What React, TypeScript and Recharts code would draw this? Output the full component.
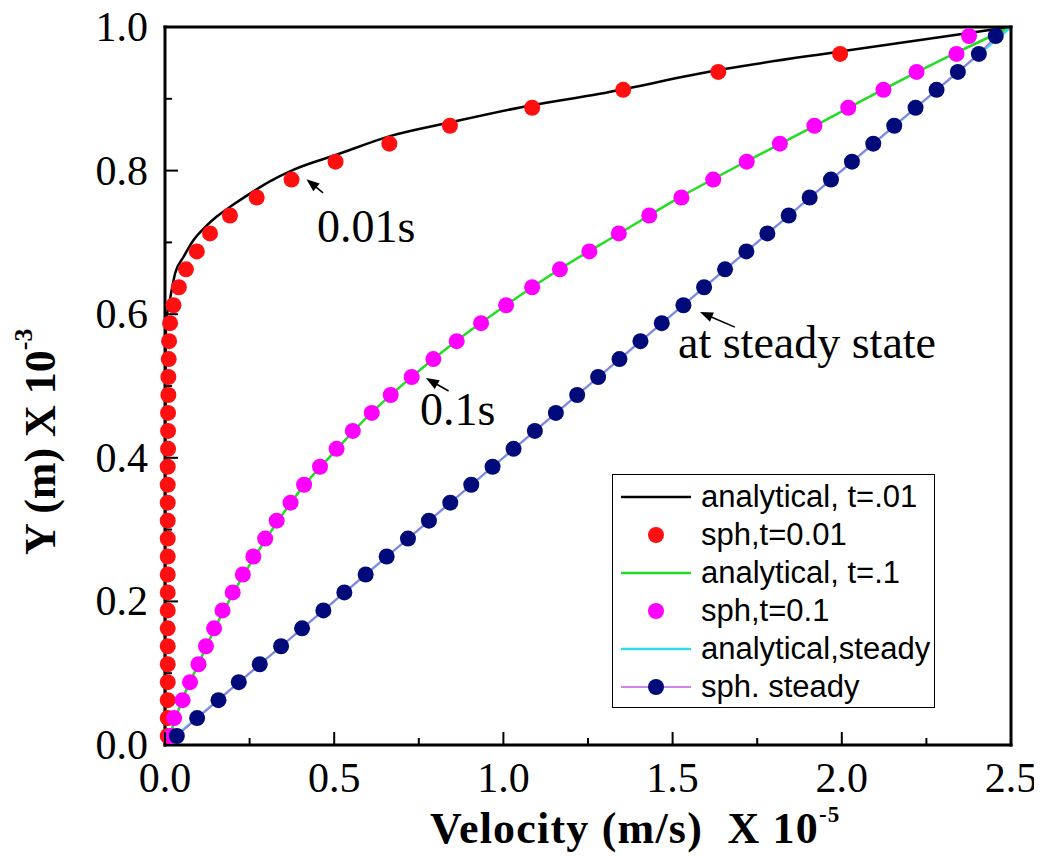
import { LineChart, Line, XAxis, YAxis, Legend, ReferenceLine, ReferenceDot } from "recharts";

// y positions of the sph particles (same for all three sph series)
const yLevels = [
  0.0125, 0.0375, 0.0625, 0.0875, 0.1125, 0.1375, 0.1625, 0.1875, 0.2125, 0.2375,
  0.2625, 0.2875, 0.3125, 0.3375, 0.3625, 0.3875, 0.4125, 0.4375, 0.4625, 0.4875,
  0.5125, 0.5375, 0.5625, 0.5875, 0.6125, 0.6375, 0.6625, 0.6875, 0.7125, 0.7375,
  0.7625, 0.7875, 0.8125, 0.8375, 0.8625, 0.8875, 0.9125, 0.9375, 0.9625, 0.9875,
];

// sph, t=0.01 (red dots)
const sphT001X = [
  0.008, 0.008, 0.008, 0.008, 0.008, 0.008, 0.008, 0.008, 0.008, 0.008,
  0.008, 0.008, 0.008, 0.008, 0.008, 0.008, 0.009, 0.009, 0.009, 0.01,
  0.01, 0.011, 0.012, 0.015, 0.025, 0.041, 0.062, 0.094, 0.133, 0.192,
  0.271, 0.374, 0.504, 0.663, 0.842, 1.085, 1.354, 1.635, 1.995,
];

// sph, t=0.1 (magenta dots)
const sphT01X = [
  0.018, 0.027, 0.052, 0.074, 0.099, 0.121, 0.145, 0.17, 0.2, 0.23,
  0.261, 0.296, 0.33, 0.371, 0.411, 0.458, 0.507, 0.555, 0.611, 0.667,
  0.729, 0.793, 0.862, 0.934, 1.008, 1.085, 1.167, 1.254, 1.341, 1.431,
  1.526, 1.62, 1.719, 1.817, 1.919, 2.019, 2.123, 2.221, 2.339, 2.376,
];

// sph steady (navy dots)
const sphSteadyX = [
  0.035, 0.095, 0.158, 0.218, 0.28, 0.343, 0.405, 0.468, 0.53, 0.593,
  0.655, 0.718, 0.78, 0.843, 0.905, 0.968, 1.03, 1.093, 1.155, 1.218,
  1.28, 1.343, 1.405, 1.468, 1.532, 1.593, 1.655, 1.718, 1.78, 1.843,
  1.905, 1.968, 2.03, 2.093, 2.155, 2.218, 2.28, 2.343, 2.405, 2.455,
];

// analytical, t=.01 (black)
const anaT001X = [0, 0.001, 0.003, 0.008, 0.015, 0.03, 0.055, 0.084, 0.12, 0.153, 0.2, 0.251, 0.31, 0.379, 0.507, 0.665, 0.842, 1.05, 1.285, 1.635, 1.995, 2.5];
const anaT001Y = [0, 0.45, 0.59, 0.605, 0.622, 0.657, 0.68, 0.703, 0.722, 0.736, 0.752, 0.768, 0.785, 0.801, 0.822, 0.848, 0.867, 0.888, 0.907, 0.94, 0.966, 1.0];

// analytical, t=.1 (green)
const anaT01X = [0, 0.02, 0.05, 0.1, 0.15, 0.2, 0.3, 0.4, 0.5, 0.6, 0.73, 0.862, 1.0, 1.167, 1.341, 1.526, 1.719, 1.919, 2.123, 2.32, 2.5];
const anaT01Y = [0, 0.022, 0.062, 0.114, 0.165, 0.21, 0.288, 0.355, 0.408, 0.458, 0.513, 0.563, 0.61, 0.663, 0.712, 0.764, 0.813, 0.862, 0.913, 0.96, 1.0];

// analytical, steady (cyan)
const anaSteadyX = [0, 2.5];
const anaSteadyY = [0, 1.0];

const xTickValues = [0, 0.25, 0.5, 0.75, 1.0, 1.25, 1.5, 1.75, 2.0, 2.25, 2.5];
const xTickLabels = ["0.0", "", "0.5", "", "1.0", "", "1.5", "", "2.0", "", "2.5"];
const yTickValues = [0, 0.1, 0.2, 0.3, 0.4, 0.5, 0.6, 0.7, 0.8, 0.9, 1.0];
const yTickLabels = ["0.0", "", "0.2", "", "0.4", "", "0.6", "", "0.8", "", "1.0"];

// annotations, in data units
const arrowTails = [[0.467, 0.769], [0.838, 0.493], [1.684, 0.582]];
const arrowHeads = [[0.418, 0.788], [0.771, 0.511], [1.581, 0.603]];
const noteTexts = ["0.01s", "0.1s", "at steady state"];
const notePos = [[0.449, 0.7006], [0.7535, 0.4457], [1.516, 0.539]];

const pts = (xs: number[], ys: number[]) => xs.map((x, i) => ({ x, y: ys[i] }));

const SERIF = "'Liberation Serif', 'Times New Roman', serif";
const SANS = "'Liberation Sans', Arial, sans-serif";

const series = [
  { name: "analytical, t=.01", data: pts(anaT001X, anaT001Y), line: "#000000", width: 2.5, dot: "", curve: "monotone" },
  { name: "sph,t=0.01", data: pts(sphT001X, yLevels), line: "none", width: 0, dot: "#ff1010", curve: "linear" },
  { name: "analytical, t=.1", data: pts(anaT01X, anaT01Y), line: "#22dd22", width: 2.5, dot: "", curve: "monotone" },
  { name: "sph,t=0.1", data: pts(sphT01X, yLevels), line: "none", width: 0, dot: "#ff00ff", curve: "linear" },
  { name: "analytical,steady", data: pts(anaSteadyX, anaSteadyY), line: "#33ddee", width: 2.5, dot: "", curve: "linear" },
  { name: "sph. steady", data: pts(sphSteadyX, yLevels), line: "#c060e0", width: 1.5, dot: "#000a78", curve: "linear" },
];

const labelAt = (labels: string[], values: number[], v: number) => {
  const i = values.findIndex((t) => Math.abs(t - v) < 1e-6);
  return i >= 0 ? labels[i] : "";
};

const BottomTick = (p: any) => {
  const label = labelAt(xTickLabels, xTickValues, p.payload.value);
  const len = label ? 13 : 7;
  return (
    <g>
      <line x1={p.x} y1={p.y} x2={p.x} y2={p.y - len} stroke="#000" strokeWidth={2} />
      {label && (
        <text x={p.x} y={p.y + 47} textAnchor="middle" fontFamily={SERIF} fontSize={42} fill="#000">
          {label}
        </text>
      )}
    </g>
  );
};

const TopTick = (p: any) => {
  const label = labelAt(xTickLabels, xTickValues, p.payload.value);
  const len = label ? 13 : 7;
  return <line x1={p.x} y1={p.y} x2={p.x} y2={p.y + len} stroke="#000" strokeWidth={2} />;
};

const LeftTick = (p: any) => {
  const label = labelAt(yTickLabels, yTickValues, p.payload.value);
  const len = label ? 13 : 7;
  return (
    <g>
      <line x1={p.x} y1={p.y} x2={p.x + len} y2={p.y} stroke="#000" strokeWidth={2} />
      {label && (
        <text x={p.x - 17} y={p.y + 14} textAnchor="end" fontFamily={SERIF} fontSize={42} fill="#000">
          {label}
        </text>
      )}
    </g>
  );
};

const RightTick = (p: any) => {
  const label = labelAt(yTickLabels, yTickValues, p.payload.value);
  const len = label ? 13 : 7;
  return <line x1={p.x} y1={p.y} x2={p.x - len} y2={p.y} stroke="#000" strokeWidth={2} />;
};

const XTitle = (p: any) => {
  const vb = p.viewBox;
  return (
    <text x={vb.x + 265} y={vb.y + 98} fontFamily={SERIF} fontWeight="bold" fontSize={44} letterSpacing={1.2} fill="#000">
      {"Velocity (m/s)\u00a0\u00a0X 10"}
      <tspan dy={-21} fontSize={23}>-5</tspan>
    </text>
  );
};

const YTitle = (p: any) => {
  const vb = p.viewBox;
  const x = vb.x + 47;
  const y = vb.y + 528;
  return (
    <text x={x} y={y} transform={`rotate(-90 ${x} ${y})`} fontFamily={SERIF} fontWeight="bold" fontSize={44} fill="#000">
      {"Y (m) X 10"}
      <tspan dy={-23} fontSize={26}>-3</tspan>
    </text>
  );
};

const Arrow = (p: any) => {
  const { x1, y1, x2, y2 } = p;
  const dx = x2 - x1;
  const dy = y2 - y1;
  const len = Math.hypot(dx, dy) || 1;
  const ux = dx / len;
  const uy = dy / len;
  const hl = 13;
  const hw = 5;
  const bx = x2 - ux * hl;
  const by = y2 - uy * hl;
  return (
    <g>
      <line x1={x1} y1={y1} x2={bx + ux * 2} y2={by + uy * 2} stroke="#000" strokeWidth={1.6} />
      <polygon points={`${x2},${y2} ${bx - uy * hw},${by + ux * hw} ${bx + uy * hw},${by - ux * hw}`} fill="#000" />
    </g>
  );
};

const noteShape = (text: string) => (p: any) => (
  <text x={p.cx} y={p.cy} fontFamily={SERIF} fontSize={46} fill="#000">
    {text}
  </text>
);

const LegendBox = ({ payload }: any) => {
  const names = (payload || []).map((e: any) => e.value);
  return (
    <div
      style={{
        width: 323,
        height: 234,
        boxSizing: "border-box",
        border: "1.5px solid #000",
        background: "#fff",
        paddingTop: 3,
        fontFamily: SANS,
        fontSize: 31,
        color: "#000",
      }}
    >
      {series
        .filter((s) => names.includes(s.name))
        .map((s) => (
          <div key={s.name} style={{ display: "flex", alignItems: "center", height: 38 }}>
            <svg width={78} height={38} style={{ display: "block" }}>
              {s.line !== "none" && <line x1={8} y1={19} x2={78} y2={19} stroke={s.line} strokeWidth={s.width} />}
              {s.dot && <circle cx={43} cy={19} r={8} fill={s.dot} />}
            </svg>
            <span style={{ marginLeft: 10, whiteSpace: "nowrap", lineHeight: "38px" }}>{s.name}</span>
          </div>
        ))}
    </div>
  );
};

export default function App() {
  return (
    <div style={{ width: 1034, height: 853, marginTop: -8, background: "#fff" }}>
      <LineChart width={1034} height={853} margin={{ top: 0, right: 0, bottom: 0, left: 0 }}>
        <XAxis
          type="number"
          dataKey="x"
          domain={[0, 2.5]}
          ticks={xTickValues}
          interval={0}
          height={108}
          tickSize={0}
          tickMargin={0}
          tickLine={false}
          tick={BottomTick}
          axisLine={{ stroke: "#000", strokeWidth: 3, strokeLinecap: "square" }}
          label={{ content: XTitle }}
        />
        <XAxis
          xAxisId="top"
          orientation="top"
          type="number"
          dataKey="x"
          domain={[0, 2.5]}
          ticks={xTickValues}
          interval={0}
          height={27}
          tickSize={0}
          tickMargin={0}
          tickLine={false}
          tick={TopTick}
          axisLine={{ stroke: "#000", strokeWidth: 3, strokeLinecap: "square" }}
        />
        <YAxis
          type="number"
          dataKey="y"
          domain={[0, 1]}
          ticks={yTickValues}
          interval={0}
          width={157}
          tickSize={0}
          tickMargin={0}
          tickLine={false}
          tick={LeftTick}
          axisLine={{ stroke: "#000", strokeWidth: 3, strokeLinecap: "square" }}
          label={{ content: YTitle }}
        />
        <YAxis
          yAxisId="right"
          orientation="right"
          type="number"
          dataKey="y"
          domain={[0, 1]}
          ticks={yTickValues}
          interval={0}
          width={31}
          tickSize={0}
          tickMargin={0}
          tickLine={false}
          tick={RightTick}
          axisLine={{ stroke: "#000", strokeWidth: 3, strokeLinecap: "square" }}
        />
        {series.map((s) => (
          <Line
            key={s.name}
            name={s.name}
            data={s.data}
            dataKey="y"
            type={s.curve as any}
            stroke={s.line}
            strokeWidth={s.width}
            dot={s.dot ? { r: 8, fill: s.dot, stroke: "none", strokeWidth: 0 } : false}
            activeDot={false}
            isAnimationActive={false}
          />
        ))}
        {arrowTails.map((t, i) => (
          <ReferenceLine
            key={`arrow-${i}`}
            segment={[
              { x: t[0], y: t[1] },
              { x: arrowHeads[i][0], y: arrowHeads[i][1] },
            ]}
            shape={Arrow}
          />
        ))}
        {notePos.map((p, i) => (
          <ReferenceDot key={`note-${i}`} x={p[0]} y={p[1]} r={0} shape={noteShape(noteTexts[i])} />
        ))}
        <Legend
          layout="horizontal"
          verticalAlign="middle"
          align="center"
          content={LegendBox}
          wrapperStyle={{ left: 604, top: 474, width: 323, height: 234 }}
        />
      </LineChart>
    </div>
  );
}
